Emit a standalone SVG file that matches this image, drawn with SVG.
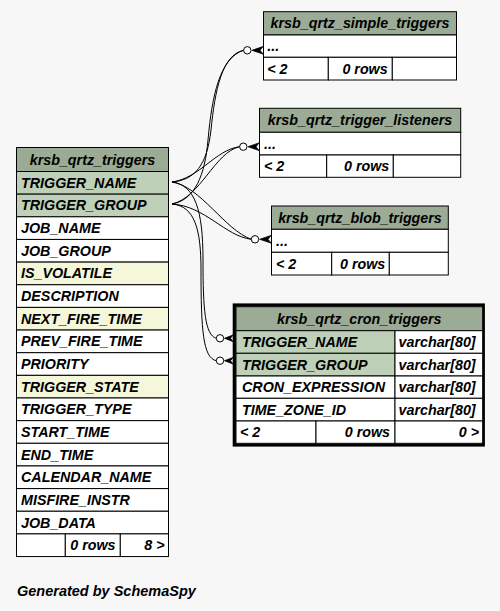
<svg xmlns="http://www.w3.org/2000/svg" width="500" height="611" viewBox="0 0 500 611">
<style>
text{font-family:"Liberation Sans",Arial,sans-serif;font-weight:bold;font-style:italic;font-size:14.3px;fill:#000}
.c{text-anchor:middle}
.e{text-anchor:end}
rect{stroke:#000;stroke-width:1}
.h{fill:#9bab96}
.pk{fill:#bed1b8}
.ix{fill:#f4f7da}
.w{fill:#ffffff}
.edge{fill:none;stroke:#000;stroke-width:1}
.dot{fill:#fff;stroke:#000;stroke-width:1}
.crow{fill:#000;stroke:#000;stroke-width:0.8}
</style>
<rect x="0" y="0" width="500" height="611" style="fill:#f7f7f7;stroke:none"/>

<g id="connectors">
<path class="edge" d="M172,182 C195,180 207,165 211,130 C215,90 222,55 243.5,50.3"/>
<path class="edge" d="M172,204 C195,200 205,175 208,140 C212,95 220,58 243.5,50.3"/>
<path class="edge" d="M172,182 C200,178 215,150 239.6,146.7"/>
<path class="edge" d="M172,204 C200,198 215,152 239.6,146.7"/>
<path class="edge" d="M172,182 C200,186 225,230 251.3,239.3"/>
<path class="edge" d="M172,204 C205,206 225,236 251.3,239.3"/>
<path class="edge" d="M172,182 C195,185 203,210 203,260 C203,310 205,335 216.3,338.3"/>
<path class="edge" d="M172,204 C195,206 201,230 201,270 C201,330 203,358 216.3,360.7"/>
<circle class="dot" cx="247.3" cy="50.3" r="3.7"/>
<path class="crow" d="M252,50.3 L263,46.5 L260,50.3 L263,54.1 Z"/>
<circle class="dot" cx="243.3" cy="146.7" r="3.7"/>
<path class="crow" d="M248,146.7 L259,142.9 L256,146.7 L259,150.5 Z"/>
<circle class="dot" cx="255" cy="239.3" r="3.7"/>
<path class="crow" d="M259.7,239.3 L271,235.5 L268,239.3 L271,243.1 Z"/>
<circle class="dot" cx="220" cy="338.3" r="3.7"/>
<path class="crow" d="M224.5,338.3 L233,335 L230.5,338.3 L233,341.6 Z"/>
<circle class="dot" cx="220" cy="360.7" r="3.7"/>
<path class="crow" d="M224.5,360.7 L233,357.4 L230.5,360.7 L233,364 Z"/>
</g>

<g id="krsb_qrtz_triggers">
<rect class="h" x="16.5" y="147.5" width="152" height="24"/>
<text class="c" x="92.5" y="164.5">krsb_qrtz_triggers</text>
<rect class="pk" x="16.5" y="171.5" width="152" height="22.65"/>
<text x="21" y="187.8">TRIGGER_NAME</text>
<rect class="pk" x="16.5" y="194.15" width="152" height="22.65"/>
<text x="21" y="210.45">TRIGGER_GROUP</text>
<rect class="w" x="16.5" y="216.8" width="152" height="22.65"/>
<text x="21" y="233.1">JOB_NAME</text>
<rect class="w" x="16.5" y="239.45" width="152" height="22.65"/>
<text x="21" y="255.75">JOB_GROUP</text>
<rect class="ix" x="16.5" y="262.1" width="152" height="22.65"/>
<text x="21" y="278.4">IS_VOLATILE</text>
<rect class="w" x="16.5" y="284.75" width="152" height="22.65"/>
<text x="21" y="301.05">DESCRIPTION</text>
<rect class="ix" x="16.5" y="307.4" width="152" height="22.65"/>
<text x="21" y="323.7">NEXT_FIRE_TIME</text>
<rect class="w" x="16.5" y="330.05" width="152" height="22.65"/>
<text x="21" y="346.35">PREV_FIRE_TIME</text>
<rect class="w" x="16.5" y="352.7" width="152" height="22.65"/>
<text x="21" y="369">PRIORITY</text>
<rect class="ix" x="16.5" y="375.35" width="152" height="22.65"/>
<text x="21" y="391.65">TRIGGER_STATE</text>
<rect class="w" x="16.5" y="398" width="152" height="22.65"/>
<text x="21" y="414.3">TRIGGER_TYPE</text>
<rect class="w" x="16.5" y="420.65" width="152" height="22.65"/>
<text x="21" y="436.95">START_TIME</text>
<rect class="w" x="16.5" y="443.3" width="152" height="22.65"/>
<text x="21" y="459.6">END_TIME</text>
<rect class="w" x="16.5" y="465.95" width="152" height="22.65"/>
<text x="21" y="482.25">CALENDAR_NAME</text>
<rect class="w" x="16.5" y="488.6" width="152" height="22.65"/>
<text x="21" y="504.9">MISFIRE_INSTR</text>
<rect class="w" x="16.5" y="511.25" width="152" height="22.65"/>
<text x="21" y="527.55">JOB_DATA</text>
<rect class="w" x="16.5" y="533.9" width="48.8" height="22.65"/>
<rect class="w" x="65.3" y="533.9" width="55" height="22.65"/>
<rect class="w" x="120.3" y="533.9" width="48.2" height="22.65"/>
<text class="e" x="115.5" y="550.2">0 rows</text>
<text class="e" x="164.5" y="550.2">8 &gt;</text>
</g>

<g id="krsb_qrtz_simple_triggers">
<rect class="h" x="263.5" y="11.7" width="193" height="23.3"/>
<text class="c" x="360" y="28.3">krsb_qrtz_simple_triggers</text>
<rect class="w" x="263.5" y="35" width="193" height="22.3"/>
<text x="267.3" y="51.2">...</text>
<rect class="w" x="263.5" y="57.3" width="64.8" height="22.7"/>
<rect class="w" x="328.3" y="57.3" width="64" height="22.7"/>
<rect class="w" x="392.3" y="57.3" width="64.2" height="22.7"/>
<text x="267.3" y="73.7">&lt; 2</text>
<text class="e" x="387.7" y="73.7">0 rows</text>
</g>

<g id="krsb_qrtz_trigger_listeners">
<rect class="h" x="259.5" y="108.3" width="201.2" height="24"/>
<text class="c" x="360" y="125.3">krsb_qrtz_trigger_listeners</text>
<rect class="w" x="259.5" y="132.3" width="201.2" height="22.7"/>
<text x="264" y="148.7">...</text>
<rect class="w" x="259.5" y="155" width="67.2" height="22.3"/>
<rect class="w" x="326.7" y="155" width="66.6" height="22.3"/>
<rect class="w" x="393.3" y="155" width="67.4" height="22.3"/>
<text x="264" y="171.2">&lt; 2</text>
<text class="e" x="389.3" y="171.2">0 rows</text>
</g>

<g id="krsb_qrtz_blob_triggers">
<rect class="h" x="271.5" y="206" width="176.8" height="23.3"/>
<text class="c" x="360" y="222.7">krsb_qrtz_blob_triggers</text>
<rect class="w" x="271.5" y="229.3" width="176.8" height="23"/>
<text x="276" y="245.8">...</text>
<rect class="w" x="271.5" y="252.3" width="60.2" height="22.7"/>
<rect class="w" x="331.7" y="252.3" width="57.6" height="22.7"/>
<rect class="w" x="389.3" y="252.3" width="59" height="22.7"/>
<text x="276" y="268.7">&lt; 2</text>
<text class="e" x="385.3" y="268.7">0 rows</text>
</g>

<g id="krsb_qrtz_cron_triggers">
<rect x="234.3" y="305" width="249" height="140" style="fill:#fff;stroke:#000;stroke-width:3.2"/>
<rect class="h" x="236" y="306.7" width="246.7" height="24"/>
<text class="c" x="359.3" y="323.7">krsb_qrtz_cron_triggers</text>
<rect class="pk" x="236" y="330.7" width="159" height="22.6"/>
<rect class="w" x="395" y="330.7" width="87.7" height="22.6"/>
<text x="242" y="347">TRIGGER_NAME</text>
<text x="398.5" y="347">varchar[80]</text>
<rect class="pk" x="236" y="353.3" width="159" height="22.7"/>
<rect class="w" x="395" y="353.3" width="87.7" height="22.7"/>
<text x="242" y="369.7">TRIGGER_GROUP</text>
<text x="398.5" y="369.7">varchar[80]</text>
<rect class="w" x="236" y="376" width="159" height="22.3"/>
<rect class="w" x="395" y="376" width="87.7" height="22.3"/>
<text x="242" y="392.2">CRON_EXPRESSION</text>
<text x="398.5" y="392.2">varchar[80]</text>
<rect class="w" x="236" y="398.3" width="159" height="22.7"/>
<rect class="w" x="395" y="398.3" width="87.7" height="22.7"/>
<text x="242" y="414.7">TIME_ZONE_ID</text>
<text x="398.5" y="414.7">varchar[80]</text>
<rect class="w" x="236" y="421" width="80" height="22.3"/>
<rect class="w" x="316" y="421" width="79" height="22.3"/>
<rect class="w" x="395" y="421" width="87.7" height="22.3"/>
<text x="240" y="437.2">&lt; 2</text>
<text class="e" x="390" y="437.2">0 rows</text>
<text class="e" x="479" y="437.2">0 &gt;</text>
</g>

<text x="17" y="596" style="font-size:14.5px">Generated by SchemaSpy</text>
</svg>
